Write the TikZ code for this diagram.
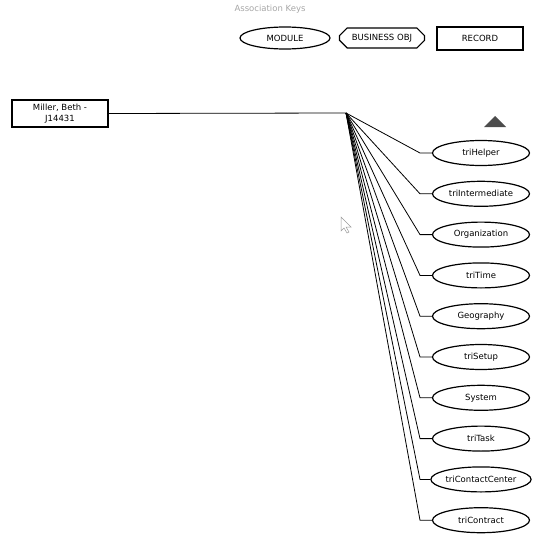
\documentclass[tikz,border=0pt]{standalone}
\usepackage{fontspec}
\setmainfont{DejaVu Sans}
\usetikzlibrary{shapes.geometric,shapes.misc}

\begin{document}
\begin{tikzpicture}[x=1pt,y=-1pt,font=\fontsize{8.5}{10.5}\selectfont]
    \tikzstyle{module node}=[ellipse,draw,line width=1.2pt,minimum width=97,minimum height=25,inner sep=0]
    \tikzstyle{bo node}=[chamfered rectangle,chamfered rectangle xsep=6pt,draw,line width=1.2pt,minimum width=85,minimum height=20,inner sep=0]
    \tikzstyle{record node}=[rectangle,draw,line width=1.2pt,minimum width=86,minimum height=23,inner sep=0]
    \tikzstyle{link}=[draw,line width=0.8pt]

    \useasboundingbox (0,0) rectangle (557,535);

    % legend
    \node(key)[text=black!35] at (270,9) {Association Keys};
    \node(mod)[module node,minimum width=90,minimum height=22] at (285,38) {MODULE};
    \node(bo)[bo node] at (382,38) {BUSINESS OBJ};
    \node(rec)[record node] at (480,38.5) {RECORD};

    % the record and its modules
    \node(0)[record node,minimum width=96,minimum height=27,align=center] at (60,113.5)
        {Miller, Beth -\\J14431};
    \coordinate(hub) at (346,113);
    \draw[link] (0.east) -- (hub);

    \foreach \name [count=\i] in {triHelper,triIntermediate,Organization,triTime,Geography,
        triSetup,System,triTask,triContactCenter,triContract}{
        \node(t\i)[module node] at (481,{153+40.8*(\i-1)}) {\name};
        \coordinate(e\i) at (420,{153+40.8*(\i-1)});
        \draw[link] (hub) -- (e\i) -- (t\i.west);
    }

    % collapse marker and pointer
    \fill[black!70] (484,127) -- (506,127) -- (495,116) -- cycle;
    \draw[black!40,line width=0.5pt] (341,217) -- (341,231) -- (344,228) -- (347,233)
        -- (349,232) -- (346,227) -- (351,227) -- cycle;
\end{tikzpicture}
\end{document}
